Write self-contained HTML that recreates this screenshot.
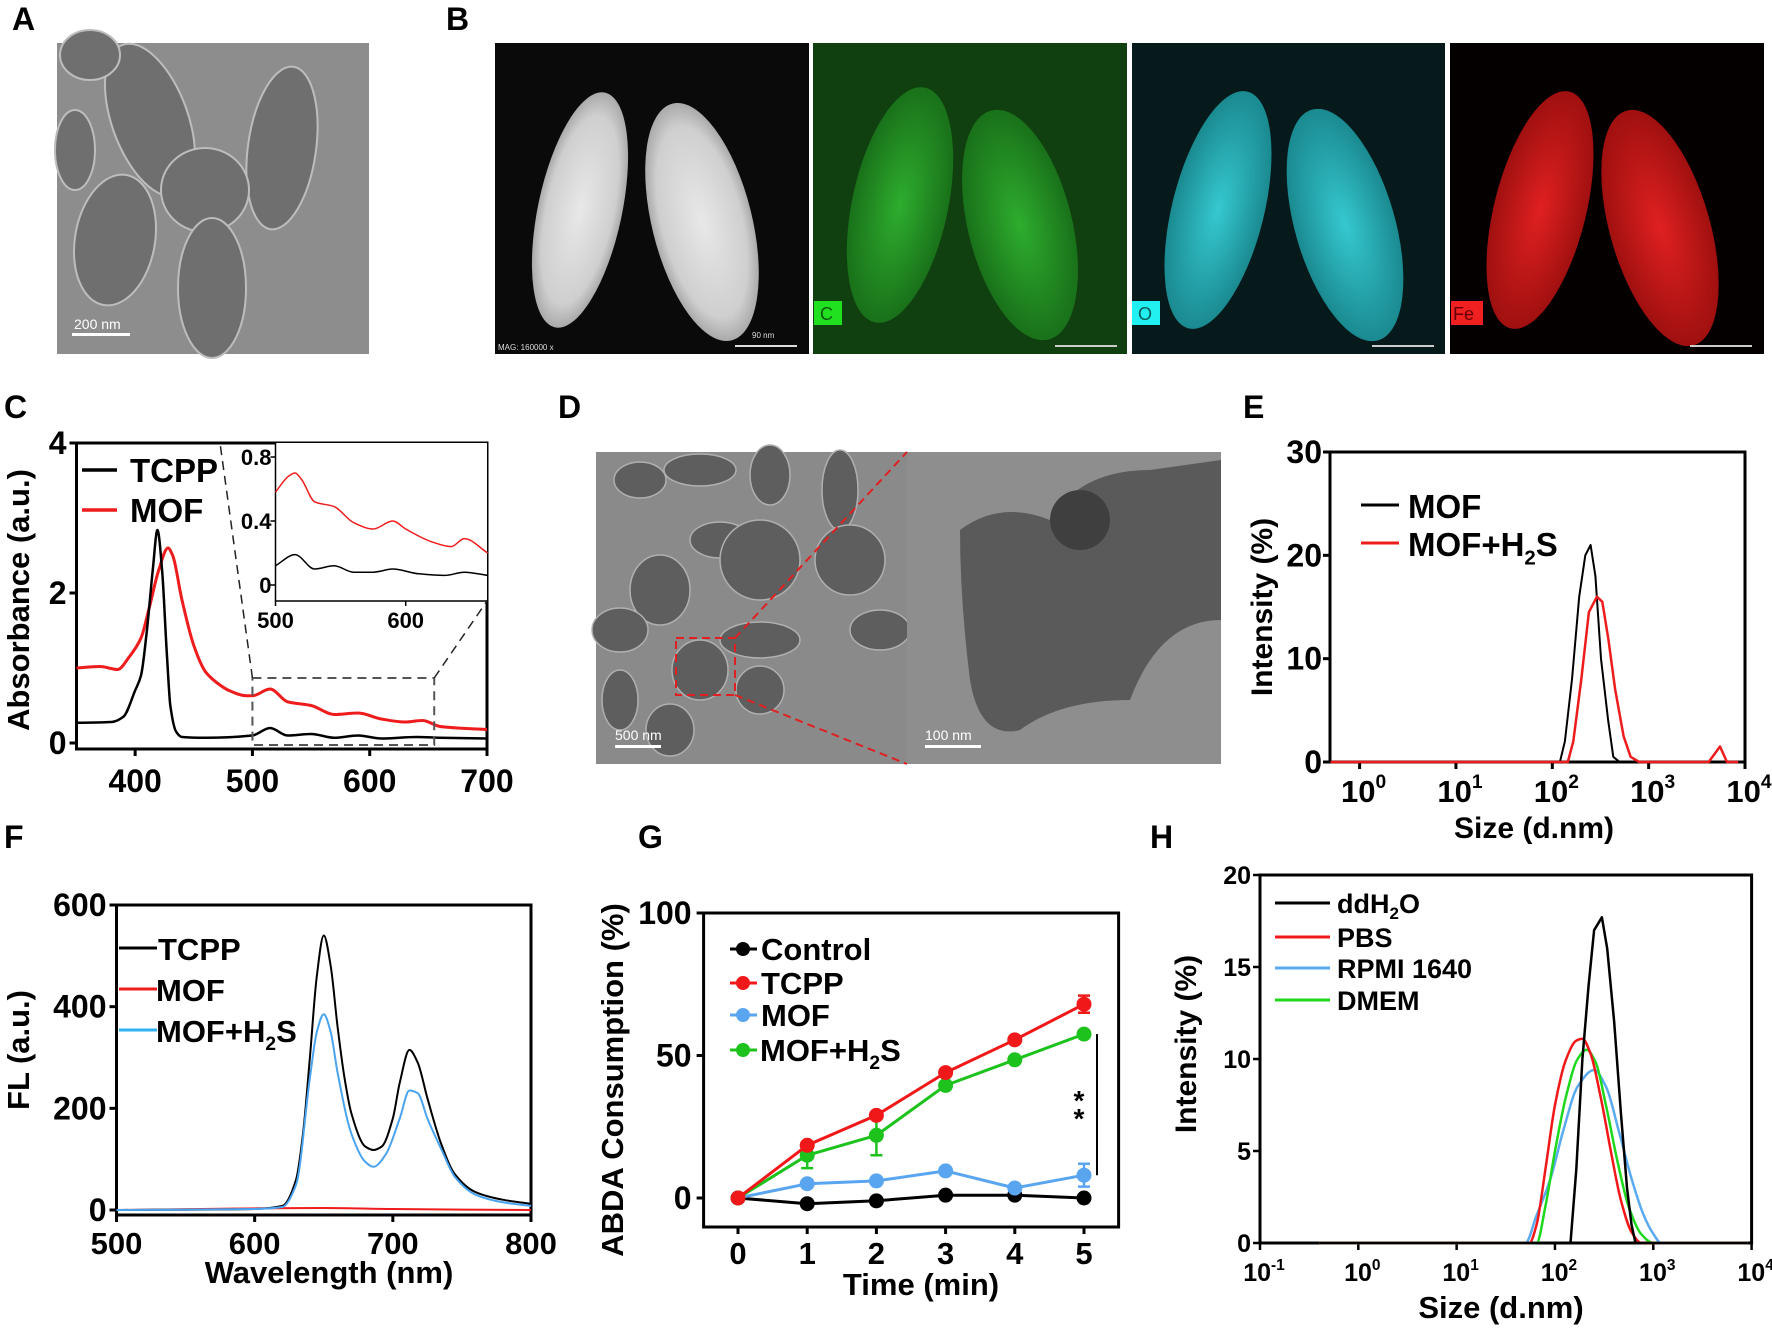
<!DOCTYPE html>
<html><head><meta charset="utf-8"><style>
html,body{margin:0;padding:0;background:#fff}
svg{display:block}
text{font-family:"Liberation Sans",Arial,sans-serif;fill:#000}
.b{font-weight:bold}
</style></head><body>
<svg id="fig" width="1772" height="1328" viewBox="0 0 1772 1328" xmlns="http://www.w3.org/2000/svg">
<defs>
<radialGradient id="gw" cx="50%" cy="50%" r="50%"><stop offset="0" stop-color="#e8e8e8"/><stop offset="0.8" stop-color="#cfcfcf"/><stop offset="1" stop-color="#aaa"/></radialGradient>
<radialGradient id="gg" cx="50%" cy="50%" r="50%"><stop offset="0" stop-color="#33c033"/><stop offset="1" stop-color="#1b7a1b"/></radialGradient>
<radialGradient id="gc" cx="50%" cy="50%" r="50%"><stop offset="0" stop-color="#36c8d0"/><stop offset="1" stop-color="#1a8a90"/></radialGradient>
<radialGradient id="gr" cx="50%" cy="50%" r="50%"><stop offset="0" stop-color="#e02020"/><stop offset="1" stop-color="#a01010"/></radialGradient>
</defs>

<g class="b" font-size="32">
<text x="12" y="30" class="b">A</text>
<text x="446" y="30" class="b">B</text>
<text x="4" y="418" class="b">C</text>
<text x="558" y="418" class="b">D</text>
<text x="1243" y="418" class="b">E</text>
<text x="4" y="848" class="b">F</text>
<text x="638" y="848" class="b">G</text>
<text x="1150" y="848" class="b">H</text>
</g>

<g>
<rect x="57" y="43" width="312" height="311" fill="#8d8d8d"/>
<g fill="#6f6f6f" stroke="#bdbdbd" stroke-width="2">
<ellipse cx="150" cy="120" rx="38" ry="80" transform="rotate(-20 150 120)"/>
<ellipse cx="282" cy="148" rx="34" ry="82" transform="rotate(8 282 148)"/>
<ellipse cx="205" cy="190" rx="44" ry="42"/>
<ellipse cx="212" cy="288" rx="34" ry="70"/>
<ellipse cx="115" cy="240" rx="40" ry="66" transform="rotate(10 115 240)"/>
<ellipse cx="75" cy="150" rx="20" ry="40"/>
<ellipse cx="90" cy="55" rx="30" ry="25"/>
</g>
<rect x="72" y="333" width="58" height="3" fill="#fff"/>
<text x="74" y="329" font-size="14" style="fill:#fff">200 nm</text>
</g>

<g>
<rect x="495" y="43" width="314" height="311" fill="#0a0a0a"/>
<ellipse cx="580" cy="210" rx="42" ry="120" transform="rotate(12 580 210)" fill="url(#gw)"/>
<ellipse cx="702" cy="222" rx="50" ry="122" transform="rotate(-14 702 222)" fill="url(#gw)"/>
<text x="498" y="350" font-size="8" style="fill:#ddd">MAG: 160000 x</text>
<rect x="735" y="345" width="62" height="2" fill="#ddd"/><text x="752" y="338" font-size="8" style="fill:#ddd">90 nm</text>
</g>
<g>
<rect x="813" y="43" width="314" height="311" fill="#104010"/>
<ellipse cx="900" cy="205" rx="48" ry="120" transform="rotate(12 900 205)" fill="url(#gg)" opacity="0.85"/>
<ellipse cx="1020" cy="225" rx="52" ry="118" transform="rotate(-14 1020 225)" fill="url(#gg)" opacity="0.85"/>
<rect x="814" y="301" width="28" height="24" fill="#20e020"/><text x="820" y="320" font-size="18" style="fill:#0a5a0a">C</text>
<rect x="1055" y="345" width="62" height="2" fill="#ccc"/>
</g>
<g>
<rect x="1132" y="43" width="313" height="311" fill="#061a1c"/>
<ellipse cx="1218" cy="210" rx="46" ry="122" transform="rotate(14 1218 210)" fill="url(#gc)"/>
<ellipse cx="1345" cy="225" rx="50" ry="120" transform="rotate(-16 1345 225)" fill="url(#gc)"/>
<rect x="1132" y="301" width="28" height="24" fill="#20f0f0"/><text x="1138" y="320" font-size="18" style="fill:#0a5a5a">O</text>
<rect x="1372" y="345" width="62" height="2" fill="#ccc"/>
</g>
<g>
<rect x="1450" y="43" width="314" height="311" fill="#050000"/>
<ellipse cx="1540" cy="210" rx="46" ry="122" transform="rotate(14 1540 210)" fill="url(#gr)"/>
<ellipse cx="1660" cy="228" rx="50" ry="122" transform="rotate(-16 1660 228)" fill="url(#gr)"/>
<rect x="1451" y="301" width="32" height="24" fill="#f02020"/><text x="1453" y="320" font-size="18" style="fill:#600">Fe</text>
<rect x="1690" y="345" width="62" height="2" fill="#ccc"/>
</g>

<g>
<rect x="596" y="452" width="311" height="312" fill="#8a8a8a"/>
<g fill="#5e5e5e" stroke="#b0b0b0" stroke-width="1.5">
<ellipse cx="640" cy="480" rx="26" ry="18"/><ellipse cx="700" cy="470" rx="36" ry="16"/><ellipse cx="770" cy="475" rx="20" ry="30"/>
<ellipse cx="840" cy="490" rx="18" ry="40"/><ellipse cx="720" cy="540" rx="30" ry="18"/><ellipse cx="660" cy="590" rx="30" ry="35"/>
<ellipse cx="760" cy="560" rx="40" ry="40"/><ellipse cx="850" cy="560" rx="35" ry="35"/><ellipse cx="880" cy="630" rx="30" ry="20"/>
<ellipse cx="620" cy="630" rx="28" ry="22"/><ellipse cx="760" cy="640" rx="40" ry="18"/><ellipse cx="700" cy="670" rx="28" ry="30"/>
<ellipse cx="620" cy="700" rx="18" ry="30"/><ellipse cx="670" cy="730" rx="24" ry="26"/><ellipse cx="760" cy="690" rx="24" ry="24"/>
</g>
<rect x="615" y="745" width="46" height="3" fill="#fff"/><text x="615" y="740" font-size="14" style="fill:#fff">500 nm</text>
<rect x="907" y="452" width="314" height="312" fill="#8e8e8e"/>
<path d="M960 530 Q1000 500 1050 520 Q1080 470 1150 470 L1221 460 L1221 620 Q1160 620 1130 700 Q1060 700 1020 730 Q980 740 970 680 Q960 600 960 530Z" fill="#5a5a5a"/>
<ellipse cx="1080" cy="520" rx="30" ry="30" fill="#3f3f3f"/>
<rect x="925" y="745" width="56" height="3" fill="#fff"/><text x="925" y="740" font-size="14" style="fill:#fff">100 nm</text>
<rect x="676" y="638" width="59" height="57" fill="none" stroke="#e02020" stroke-width="2" stroke-dasharray="8 5"/>
<line x1="735" y1="638" x2="907" y2="452" stroke="#e02020" stroke-width="2" stroke-dasharray="8 5"/>
<line x1="735" y1="695" x2="907" y2="764" stroke="#e02020" stroke-width="2" stroke-dasharray="8 5"/>
</g>

<g id="charts"></g>
</svg>
<script>
// ---------- DATA ----------
const cTcppX=[350,380,390,400,405,410,415,419,423,427,430,435,440,460,500,515,530,550,570,590,610,640,660,700];
const cTcppY=[0.27,0.28,0.35,0.7,0.9,1.5,2.3,2.84,2.3,1.2,0.5,0.15,0.08,0.07,0.1,0.2,0.1,0.12,0.07,0.1,0.06,0.08,0.07,0.06];
const cMofX=[350,370,385,395,405,412,420,428,432,440,450,460,470,480,495,500,515,530,550,570,590,610,630,645,660,700];
const cMofY=[1.0,1.02,0.98,1.15,1.4,1.8,2.3,2.6,2.5,1.9,1.3,0.95,0.8,0.7,0.63,0.63,0.72,0.55,0.5,0.38,0.4,0.32,0.28,0.3,0.22,0.18];
const cInsetMofX=[500,510,515,520,530,545,560,575,590,600,620,635,645,663];
const cInsetMofY=[0.58,0.68,0.7,0.66,0.52,0.49,0.39,0.35,0.4,0.35,0.27,0.24,0.29,0.2];
const cInsetTcppX=[500,515,530,545,560,575,590,610,630,645,663];
const cInsetTcppY=[0.12,0.19,0.1,0.12,0.08,0.08,0.1,0.07,0.06,0.08,0.06];
const cXTicks=[400,500,600,700];
const cYTicks=[0,2,4];
const eMofX=[0.5,120,135,160,190,220,250,280,320,380,430,500,8500];
const eMofY=[0,0,2,8,16,20,21,18,10,4,0.5,0,0];
const eMofH2SX=[0.5,145,165,200,240,290,330,380,450,550,650,800,4200,5500,6500,8500];
const eMofH2SY=[0,0,2,8,14.5,16,15.5,12,7,2.5,0.5,0,0,1.5,0,0];
const eYTicks=[0,10,20,30];
const eXExp=[0,1,2,3,4];
const fTcppX=[500,600,620,630,635,640,645,650,655,660,665,670,680,686,692,700,705,712,718,725,735,745,760,780,800];
const fTcppY=[0,2,8,60,150,300,460,540,480,360,260,190,125,118,125,180,250,315,290,220,130,70,35,20,12];
const fH2SX=[500,600,620,630,640,645,650,655,660,670,680,686,695,705,712,718,725,735,745,760,780,800];
const fH2SY=[0,2,6,50,260,350,385,350,270,150,95,85,110,180,235,230,180,120,65,30,15,8];
const fMofX=[500,650,700,800];
const fMofY=[0,4,2,0];
const fXTicks=[500,600,700,800];
const fYTicks=[0,200,400,600];
const gTime=[0,1,2,3,4,5];
const gControl=[0,-2,-1,1,1,0];
const gTcpp=[0,18.5,29,44,55.5,68];
const gMof=[0,5,6,9.5,3.5,8];
const gMofH2S=[0,15,22,39.5,48.5,57.5];
const gTcppErr=[0,1,0.5,1,1,3];
const gMofErr=[0,0.5,0.5,0.5,0.5,4];
const gMofH2SErr=[0,4.5,7,1,1,1];
const gControlErr=[0,0.5,0.5,0.5,0.5,0.5];
const gYTicks=[0,50,100];
const hWaterX=[0.4,144,165,190,220,250,300,340,400,470,540,600,660,9000];
const hWaterY=[0,0,4,10,14,17,17.7,16,12,7,3,1,0,0];
const hPbsX=[0.4,55,65,80,100,130,165,190,230,290,370,470,600,760,9000];
const hPbsY=[0,0,1,4,7.5,10,11,11.1,10.3,8,5,2.3,0.6,0,0];
const hRpmiX=[0.4,50,65,90,120,170,250,330,450,600,800,1000,1200,9000];
const hRpmiY=[0,0,1.5,3.5,6,8.5,9.4,8.5,6,3.5,1.5,0.5,0,0];
const hDmemX=[0.4,65,80,100,130,170,210,260,330,430,560,750,1000,9000];
const hDmemY=[0,0,2,5,8,10,10.5,9.8,7.5,4.5,2,0.5,0,0];
const hYTicks=[0,5,10,15,20];
const hXExp=[-1,0,1,2,3,4];

// ---------- helpers ----------
const NS='http://www.w3.org/2000/svg';
const root=document.getElementById('charts');
function mk(tag,attrs,parent){const e=document.createElementNS(NS,tag);for(const k in attrs)e.setAttribute(k,attrs[k]);(parent||root).appendChild(e);return e;}
function grp(name,parent){const g=mk('g',{},parent);


return g;}
function lin(a0,a1,p0,p1){return v=>p0+(v-a0)/(a1-a0)*(p1-p0);}
function logs(a0,a1,p0,p1){const f=lin(a0,a1,p0,p1);return v=>f(Math.log10(v));}
function monoPath(p){const n=p.length;let d='M'+p[0][0].toFixed(1)+' '+p[0][1].toFixed(1);if(n<3){for(let i=1;i<n;i++)d+=' L'+p[i][0].toFixed(1)+' '+p[i][1].toFixed(1);return d;}
const dx=[],m=[];for(let i=0;i<n-1;i++){dx.push(p[i+1][0]-p[i][0]);m.push((p[i+1][1]-p[i][1])/(dx[i]||1e-6));}
const t=[m[0]];for(let i=1;i<n-1;i++){if(m[i-1]*m[i]<=0)t.push(0);else{const a=dx[i-1],b=dx[i];t.push(3*(a+b)/((2*b+a)/m[i-1]+(b+2*a)/m[i]));}}t.push(m[n-2]);
for(let i=0;i<n-1;i++){const h=dx[i]/3;d+=' C'+(p[i][0]+h).toFixed(1)+' '+(p[i][1]+t[i]*h).toFixed(1)+' '+(p[i+1][0]-h).toFixed(1)+' '+(p[i+1][1]-t[i+1]*h).toFixed(1)+' '+p[i+1][0].toFixed(1)+' '+p[i+1][1].toFixed(1);}return d;}
function series(parent,name,xs,ys,sx,sy,color,w,smooth){const pts=xs.map((x,i)=>[sx(x),sy(ys[i])]);
const p=mk('path',{d:smooth===false?('M'+pts.map(p=>p[0].toFixed(1)+' '+p[1].toFixed(1)).join(' L')):monoPath(pts),fill:'none',stroke:color,'stroke-width':w,'stroke-linejoin':'round'},parent);


return p;}
function txt(parent,name,x,y,s,size,anchor,bold,extra){const t=mk('text',Object.assign({x:x,y:y,'font-size':size,'text-anchor':anchor||'start','font-weight':bold===false?'normal':'bold'},extra||{}),parent);t.textContent=s;


return t;}
function box(parent,l,t,r,b,w){const f=mk('rect',{x:l,y:t,width:r-l,height:b-t,fill:'none',stroke:'#000','stroke-width':w||3},parent);

}
function powLabel(parent,name,x,y,e,size){const t=mk('text',{x:x,y:y,'font-size':size,'text-anchor':'middle','font-weight':'bold'},parent);


const a=mk('tspan',{},t);a.textContent='10';const b=mk('tspan',{dy:-size*0.45,'font-size':size*0.62},t);b.textContent=String(e);return t;}
function legendH2S(parent,name,x,y,size){const t=mk('text',{x:x,y:y,'font-size':size,'font-weight':'bold'},parent);


const a=mk('tspan',{},t);a.textContent='MOF+H';const b=mk('tspan',{dy:size*0.25,'font-size':size*0.62},t);b.textContent='2';const c=mk('tspan',{dy:-size*0.25},t);c.textContent='S';return t;}
function legLine(parent,name,x1,x2,y,color,w){const l=mk('line',{x1:x1,x2:x2,y1:y,y2:y,stroke:color,'stroke-width':w},parent);

}

// ---------- Panel C ----------
(function(){
const g=grp('chart-c-absorbance');
const L=76.5,R=487,T=443,B=749;
const sx=lin(350,700,L,R), sy=lin(0,4,743,443);
box(g,L,T,R,B,3);
const ax=grp('x-axis-c',g);
cXTicks.forEach(v=>{mk('line',{x1:sx(v),x2:sx(v),y1:B,y2:B+7,stroke:'#000','stroke-width':3},ax);txt(ax,'x-tick-label',sx(v),792,String(v),32,'middle');});
const ay=grp('y-axis-c',g);
cYTicks.forEach(v=>{mk('line',{x1:L-7,x2:L,y1:sy(v),y2:sy(v),stroke:'#000','stroke-width':3},ay);txt(ay,'y-tick-label',L-10,sy(v)+11,String(v),32,'end');});
txt(ay,'y-axis-title',0,0,'Absorbance (a.u.)',31,'middle',true,{transform:'translate(29 600) rotate(-90)'});
series(g,'line-mof',cMofX,cMofY,sx,sy,'#ee1c1c',3);
series(g,'line-tcpp',cTcppX,cTcppY,sx,sy,'#000',2.5);
const z=grp('zoom-indicator',g);
mk('rect',{x:sx(500),y:678,width:sx(655)-sx(500),height:67,fill:'none',stroke:'#555','stroke-width':2,'stroke-dasharray':'9 6'},z);
mk('line',{x1:sx(500),y1:678,x2:220,y2:443,stroke:'#222','stroke-width':1.5,'stroke-dasharray':'9 6'},z);
mk('line',{x1:sx(655),y1:678,x2:487,y2:601,stroke:'#222','stroke-width':1.5,'stroke-dasharray':'9 6'},z);
const ins=grp('inset-c',g);
const il=275.5,ir=487,it=443,ib=601;
const ix=lin(500,600,il,405.7), iy=lin(0,0.8,585,457);
mk('rect',{x:il,y:it,width:ir-il,height:ib-it,fill:'#fff'},ins);
mk('path',{d:`M${il} ${it} L${il} ${ib} L${ir} ${ib}`,fill:'none',stroke:'#000','stroke-width':1.5},ins);
[0,0.4,0.8].forEach(v=>{mk('line',{x1:il-5,x2:il,y1:iy(v),y2:iy(v),stroke:'#000','stroke-width':1.5},ins);txt(ins,'inset-y-tick',il-4,iy(v)+8,String(v),22,'end');});
[500,600].forEach(v=>{mk('line',{x1:ix(v),x2:ix(v),y1:ib,y2:ib+5,stroke:'#000','stroke-width':1.5},ins);txt(ins,'inset-x-tick',ix(v),628,String(v),22,'middle');});
series(ins,'inset-line-mof',cInsetMofX,cInsetMofY,ix,iy,'#ee1c1c',1.5);
series(ins,'inset-line-tcpp',cInsetTcppX,cInsetTcppY,ix,iy,'#000',1.5);
const lg=grp('legend-c',g);
legLine(lg,'legend-swatch-tcpp',82,117,470,'#000',3.5);txt(lg,'legend-label-tcpp',130,482,'TCPP',33,'start');
legLine(lg,'legend-swatch-mof',82,117,510,'#ee1c1c',3.5);txt(lg,'legend-label-mof',130,522,'MOF',33,'start');
})();

// ---------- Panel E ----------
(function(){
const g=grp('chart-e-dls');
const L=1330,R=1745,T=452,B=762;
const sx=logs(0,4,1359.6,1745), sy=lin(0,30,762,452);
box(g,L,T,R,B,3);
const ax=grp('x-axis-e',g);
eXExp.forEach(e=>{const x=sx(Math.pow(10,e));mk('line',{x1:x,x2:x,y1:B,y2:B+7,stroke:'#000','stroke-width':3},ax);powLabel(ax,'x-tick-label',x+4,802,e,31);});
txt(ax,'x-axis-title',1534,838,'Size (d.nm)',30,'middle');
const ay=grp('y-axis-e',g);
eYTicks.forEach(v=>{mk('line',{x1:L-7,x2:L,y1:sy(v),y2:sy(v),stroke:'#000','stroke-width':3},ay);txt(ay,'y-tick-label',L-8,sy(v)+11,String(v),32,'end');});
txt(ay,'y-axis-title',0,0,'Intensity (%)',30,'middle',true,{transform:'translate(1272 607) rotate(-90)'});
series(g,'line-mof',eMofX,eMofY,sx,sy,'#000',2,false);
series(g,'line-mof-h2s',eMofH2SX,eMofH2SY,sx,sy,'#ee1c1c',2.5,false);
const lg=grp('legend-e',g);
legLine(lg,'legend-swatch-mof',1361,1399,505,'#000',3);txt(lg,'legend-label-mof',1408,518,'MOF',33,'start');
legLine(lg,'legend-swatch-mof-h2s',1361,1399,543,'#ee1c1c',3);legendH2S(lg,'legend-label-mof-h2s',1408,556,33);
})();

// ---------- Panel F ----------
(function(){
const g=grp('chart-f-fluorescence');
const L=116.5,R=531,T=905,B=1215;
const sx=lin(500,800,L,R), sy=lin(0,600,1210,905);
box(g,L,T,R,B,3);
const ax=grp('x-axis-f',g);
fXTicks.forEach(v=>{mk('line',{x1:sx(v),x2:sx(v),y1:B,y2:B+7,stroke:'#000','stroke-width':3},ax);txt(ax,'x-tick-label',sx(v),1254,String(v),31,'middle');});
txt(ax,'x-axis-title',329,1283,'Wavelength (nm)',31,'middle');
const ay=grp('y-axis-f',g);
fYTicks.forEach(v=>{mk('line',{x1:L-7,x2:L,y1:sy(v),y2:sy(v),stroke:'#000','stroke-width':3},ay);txt(ay,'y-tick-label',L-10,sy(v)+11,String(v),32,'end');});
txt(ay,'y-axis-title',0,0,'FL (a.u.)',31,'middle',true,{transform:'translate(29 1050) rotate(-90)'});
series(g,'line-mof',fMofX,fMofY,sx,sy,'#ee1c1c',2);
series(g,'line-tcpp',fTcppX,fTcppY,sx,sy,'#000',2);
series(g,'line-mof-h2s',fH2SX,fH2SY,sx,sy,'#4aa3ef',2);
const lg=grp('legend-f',g);
legLine(lg,'legend-swatch-tcpp',119,157,948,'#000',3);txt(lg,'legend-label-tcpp',158,960,'TCPP',31,'start');
legLine(lg,'legend-swatch-mof',119,157,989,'#ee1c1c',3);txt(lg,'legend-label-mof',156,1001,'MOF',31,'start');
legLine(lg,'legend-swatch-mof-h2s',119,157,1030,'#31b0f0',3);legendH2S(lg,'legend-label-mof-h2s',156,1042,31);
})();

// ---------- Panel G ----------
(function(){
const g=grp('chart-g-abda');
const L=703.6,R=1118.6,T=913,B=1227;
const sx=lin(0,5,738,1084), sy=lin(0,100,1198,913);
box(g,L,T,R,B,3);
const ax=grp('x-axis-g',g);
gTime.forEach(v=>{mk('line',{x1:sx(v),x2:sx(v),y1:B,y2:B+7,stroke:'#000','stroke-width':3},ax);txt(ax,'x-tick-label',sx(v),1264,String(v),31,'middle');});
txt(ax,'x-axis-title',921,1295,'Time (min)',31,'middle');
const ay=grp('y-axis-g',g);
gYTicks.forEach(v=>{mk('line',{x1:L-7,x2:L,y1:sy(v),y2:sy(v),stroke:'#000','stroke-width':3},ay);txt(ay,'y-tick-label',L-12,sy(v)+11,String(v),32,'end');});
txt(ay,'y-axis-title',0,0,'ABDA Consumption (%)',31,'middle',true,{transform:'translate(623 1080) rotate(-90)'});
const sets=[['control',gControl,gControlErr,'#000'],['mof',gMof,gMofErr,'#5aa5f0'],['mof-h2s',gMofH2S,gMofH2SErr,'#1dc21d'],['tcpp',gTcpp,gTcppErr,'#f01818']];
sets.forEach(([n,ys,es,c])=>{const sg=grp('series-'+n,g);
series(sg,'line-'+n,gTime,ys,sx,sy,c,3,false);
gTime.forEach((t,i)=>{const x=sx(t);
if(es[i]>1){const eb=mk('path',{d:`M${x} ${sy(ys[i]-es[i])} L${x} ${sy(ys[i]+es[i])} M${x-6} ${sy(ys[i]-es[i])} L${x+6} ${sy(ys[i]-es[i])} M${x-6} ${sy(ys[i]+es[i])} L${x+6} ${sy(ys[i]+es[i])}`,stroke:c,'stroke-width':2.5,fill:'none'},sg);

}
const p=mk('circle',{cx:x,cy:sy(ys[i]),r:7.5,fill:c},sg);

});});
const sig=grp('significance-bracket',g);
mk('line',{x1:1097,x2:1097,y1:sy(gMofH2S[5]),y2:sy(gMof[5]),stroke:'#000','stroke-width':2},sig);
txt(sig,'significance-stars',1079,1110,'*',28,'middle');txt(sig,'significance-stars',1079,1128,'*',28,'middle');
const lg=grp('legend-g',g);
const items=[['control','Control','#000',949],['tcpp',' TCPP','#f01818',983],['mof','MOF','#5aa5f0',1015],['mof-h2s',null,'#1dc21d',1050]];
items.forEach(([n,l,c,y])=>{legLine(lg,'legend-swatch-'+n,730,757,y,c,3);const m=mk('circle',{cx:743,cy:y,r:7,fill:c},lg);


if(l)txt(lg,'legend-label-'+n,761,y+11,l,31,'start');else legendH2S(lg,'legend-label-'+n,760,y+11,31);});
})();

// ---------- Panel H ----------
(function(){
const g=grp('chart-h-dls-media');
const L=1260,R=1751.6,T=875,B=1243;
const sx=logs(-1,4,1260,1751.6), sy=lin(0,20,1243,875);
box(g,L,T,R,B,3);
const ax=grp('x-axis-h',g);
hXExp.forEach(e=>{const x=sx(Math.pow(10,e));mk('line',{x1:x,x2:x,y1:B,y2:B+7,stroke:'#000','stroke-width':2.5},ax);powLabel(ax,'x-tick-label',x+4,1281,e,25);});
txt(ax,'x-axis-title',1501,1318,'Size (d.nm)',31,'middle');
const ay=grp('y-axis-h',g);
hYTicks.forEach(v=>{mk('line',{x1:L-7,x2:L,y1:sy(v),y2:sy(v),stroke:'#000','stroke-width':2.5},ay);txt(ay,'y-tick-label',L-9,sy(v)+9,String(v),25,'end');});
txt(ay,'y-axis-title',0,0,'Intensity (%)',30,'middle',true,{transform:'translate(1196 1044) rotate(-90)'});
series(g,'line-rpmi-1640',hRpmiX,hRpmiY,sx,sy,'#5aaaf0',2.5);
series(g,'line-dmem',hDmemX,hDmemY,sx,sy,'#1ed81e',2.5);
series(g,'line-pbs',hPbsX,hPbsY,sx,sy,'#f01818',2.5);
series(g,'line-ddh2o',hWaterX,hWaterY,sx,sy,'#000',2.5,false);
const lg=grp('legend-h',g);
legLine(lg,'legend-swatch-ddh2o',1275,1330,903,'#000',3);
const t=mk('text',{x:1337,y:913,'font-size':27,'font-weight':'bold'},lg);


const a=mk('tspan',{},t);a.textContent='ddH';const b=mk('tspan',{dy:6,'font-size':17},t);b.textContent='2';const c=mk('tspan',{dy:-6},t);c.textContent='O';
legLine(lg,'legend-swatch-pbs',1275,1330,937,'#f01818',3);txt(lg,'legend-label-pbs',1337,947,'PBS',27,'start');
legLine(lg,'legend-swatch-rpmi-1640',1275,1330,968,'#5aaaf0',3);txt(lg,'legend-label-rpmi-1640',1337,978,'RPMI 1640',27,'start');
legLine(lg,'legend-swatch-dmem',1275,1330,1000,'#1ed81e',3);txt(lg,'legend-label-dmem',1337,1010,'DMEM',27,'start');
})();
</script>
</body></html>
